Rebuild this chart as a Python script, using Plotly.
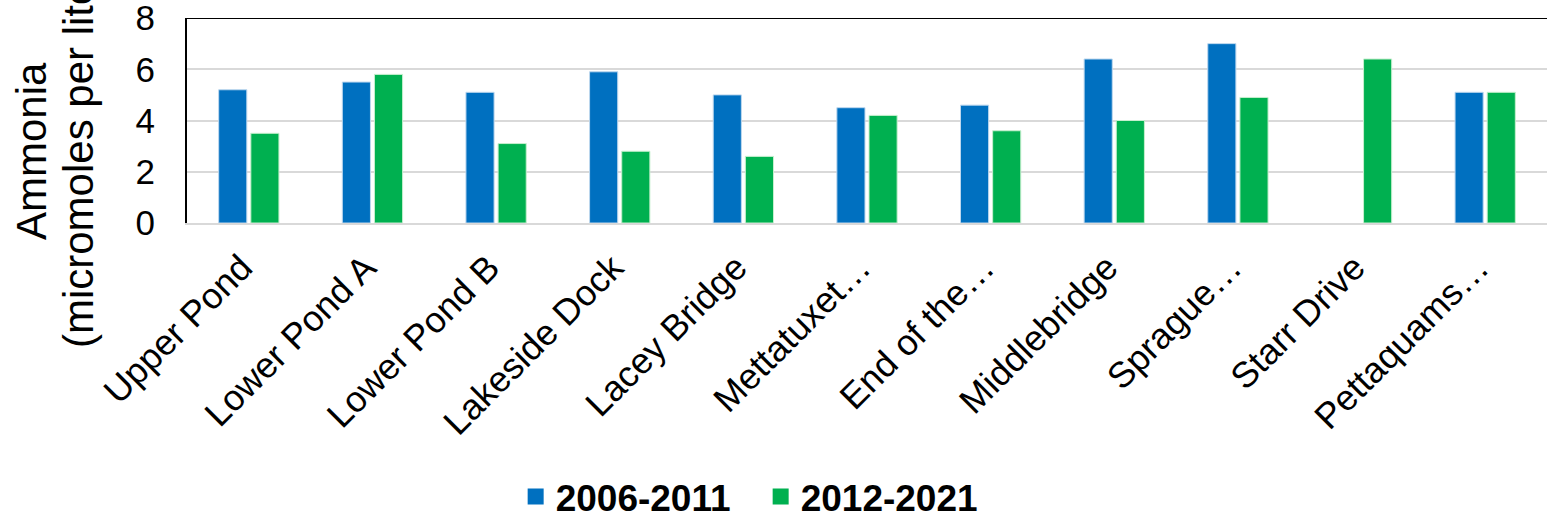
import plotly.graph_objects as go

categories = ["Upper Pond", "Lower Pond A", "Lower Pond B", "Lakeside Dock", "Lacey Bridge",
              "Mettatuxet…", "End of the…", "Middlebridge", "Sprague…", "Starr Drive", "Pettaquams…"]
series_2006_2011 = [5.2, 5.5, 5.1, 5.9, 5.0, 4.5, 4.6, 6.4, 7.0, None, 5.1]
series_2012_2021 = [3.5, 5.8, 3.1, 2.8, 2.6, 4.2, 3.6, 4.0, 4.9, 6.4, 5.1]
series_names = ["2006-2011", "2012-2021"]
y_ticks = [0, 2, 4, 6, 8]
y_title_lines = ["Ammonia", "(micromoles per liter)"]

FONT = "Liberation Sans, Arial, sans-serif"
BLUE, GREEN = "#0070C0", "#00B050"

fig = go.Figure()
fig.add_trace(go.Bar(x=categories, y=series_2006_2011, name=series_names[0], showlegend=False,
                     marker=dict(color=BLUE, line=dict(color="#BDD7EE", width=1))))
fig.add_trace(go.Bar(x=categories, y=series_2012_2021, name=series_names[1], showlegend=False,
                     marker=dict(color=GREEN, line=dict(color="#C6EFCE", width=1))))
# legend entries with larger square keys
for nm, col in zip(series_names, [BLUE, GREEN]):
    fig.add_trace(go.Scatter(x=[None], y=[None], mode="markers", name=nm,
                             marker=dict(symbol="square", size=20, color=col)))

fig.update_layout(
    width=1547, height=516,
    margin=dict(l=187, r=0, t=18, b=293, autoexpand=False),
    paper_bgcolor="white", plot_bgcolor="white",
    barmode="group", bargap=0.48, bargroupgap=0.125,
    font=dict(family=FONT, color="black"),
    showlegend=True,
    legend=dict(orientation="h", xref="container", yref="container",
                x=0.4917, xanchor="center", y=0.037, yanchor="middle",
                font=dict(family=FONT, size=37, weight="bold", color="black"),
                itemsizing="trace", entrywidth=200),
    xaxis=dict(tickangle=-45, tickfont=dict(size=36), showline=True, linecolor="#D9D9D9",
               linewidth=2, showgrid=False, ticks="", range=[-0.5, 10.5], automargin=False,
               ticklabelshift=-7, ticklabelstandoff=7, ticklabeloverflow="allow"),
    yaxis=dict(range=[0, 8], tickvals=y_ticks, tickfont=dict(size=35), showline=True,
               linecolor="black", linewidth=2, showgrid=True, gridcolor="#D9D9D9",
               gridwidth=2, zeroline=False, ticks="", ticklabelstandoff=23, automargin=False,
               ticklabeloverflow="allow"),
)

fig.add_shape(type="line", xref="paper", yref="y", x0=0, x1=1, y0=8, y1=8,
              line=dict(color="black", width=2))

plot_w = 1547 - 187
for line, px in zip(y_title_lines, [31, 78]):
    fig.add_annotation(text=line, textangle=-90,
                       xref="paper", yref="paper", x=(px - 187) / plot_w, y=0.351,
                       xanchor="center", yanchor="middle", showarrow=False,
                       font=dict(family=FONT, size=42, color="black"))

fig.write_html("out.html", config={"displayModeBar": False},
               post_script="document.body.style.margin='0';document.body.style.overflow='hidden';")
